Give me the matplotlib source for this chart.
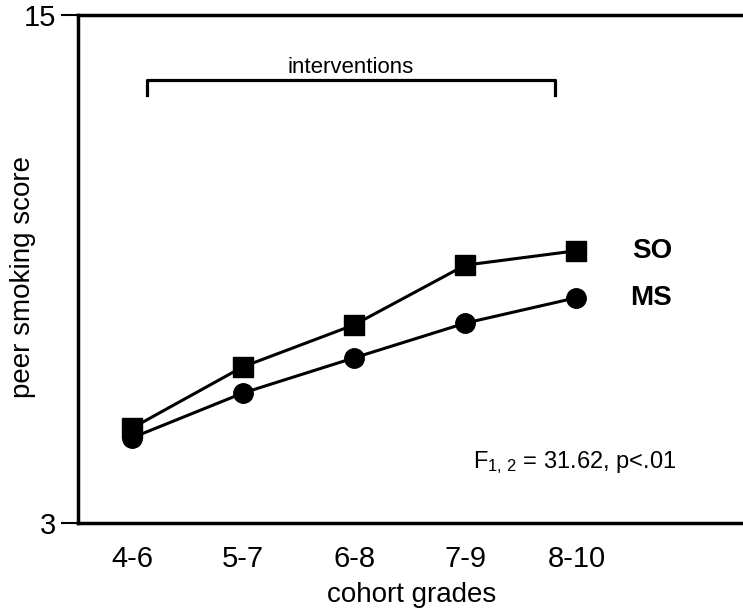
import matplotlib
matplotlib.use('Agg')
import matplotlib.pyplot as plt

plt.rcParams['font.family'] = ['Liberation Sans', 'DejaVu Sans']
plt.rcParams['mathtext.fontset'] = 'custom'
plt.rcParams['mathtext.rm'] = 'Liberation Sans'
plt.rcParams['mathtext.it'] = 'Liberation Sans:italic'

grades = ['4-6', '5-7', '6-8', '7-9', '8-10']
so_score = [5.24, 6.69, 7.68, 9.09, 9.43]
ms_score = [5.01, 6.07, 6.90, 7.72, 8.32]

fig = plt.figure(figsize=(7.43, 6.13), dpi=100)
ax = fig.add_axes([0.105, 0.147, 0.895, 0.8285])

x = list(range(len(grades)))
ax.plot(x, so_score, 'ks-', lw=2.2, markersize=14)
ax.plot(x, ms_score, 'ko-', lw=2.2, markersize=14)

# series labels
ax.text(4.5, so_score[-1], 'SO', fontsize=20, fontweight='bold', va='center', ha='left')
ax.text(4.48, ms_score[-1], 'MS', fontsize=20, fontweight='bold', va='center', ha='left')

# interventions bracket
ax.plot([0.135, 0.135, 3.81, 3.81], [13.12, 13.47, 13.47, 13.12], color='black', lw=2.3)
ax.text(1.97, 13.63, 'interventions', fontsize=16, ha='center', va='baseline')

ax.text(3.98, 4.42, r'F$_{\mathrm{1,\,2}}$ = 31.62, p<.01', fontsize=17, ha='center', va='center')

ax.set_xlim(-0.486, 5.5)
ax.set_ylim(3, 15)
ax.set_xticks(x)
ax.set_xticklabels(grades, fontsize=21)
ax.set_yticks([3, 15])
ax.set_yticklabels(['3', '15'], fontsize=21)
ax.tick_params(axis='x', length=0, pad=16)
ax.tick_params(axis='y', length=12, width=1.5, direction='out', pad=4)
ax.spines['right'].set_visible(False)
for s in ['left', 'top', 'bottom']:
    ax.spines[s].set_linewidth(2.5)
ax.set_xlabel('cohort grades', fontsize=20, va='center')
ax.set_ylabel('peer smoking score', fontsize=20, va='center')
ax.xaxis.set_label_coords(0.502, -0.142)
ax.yaxis.set_label_coords(-0.083, 0.484)

fig.savefig('out.png', dpi=100)
